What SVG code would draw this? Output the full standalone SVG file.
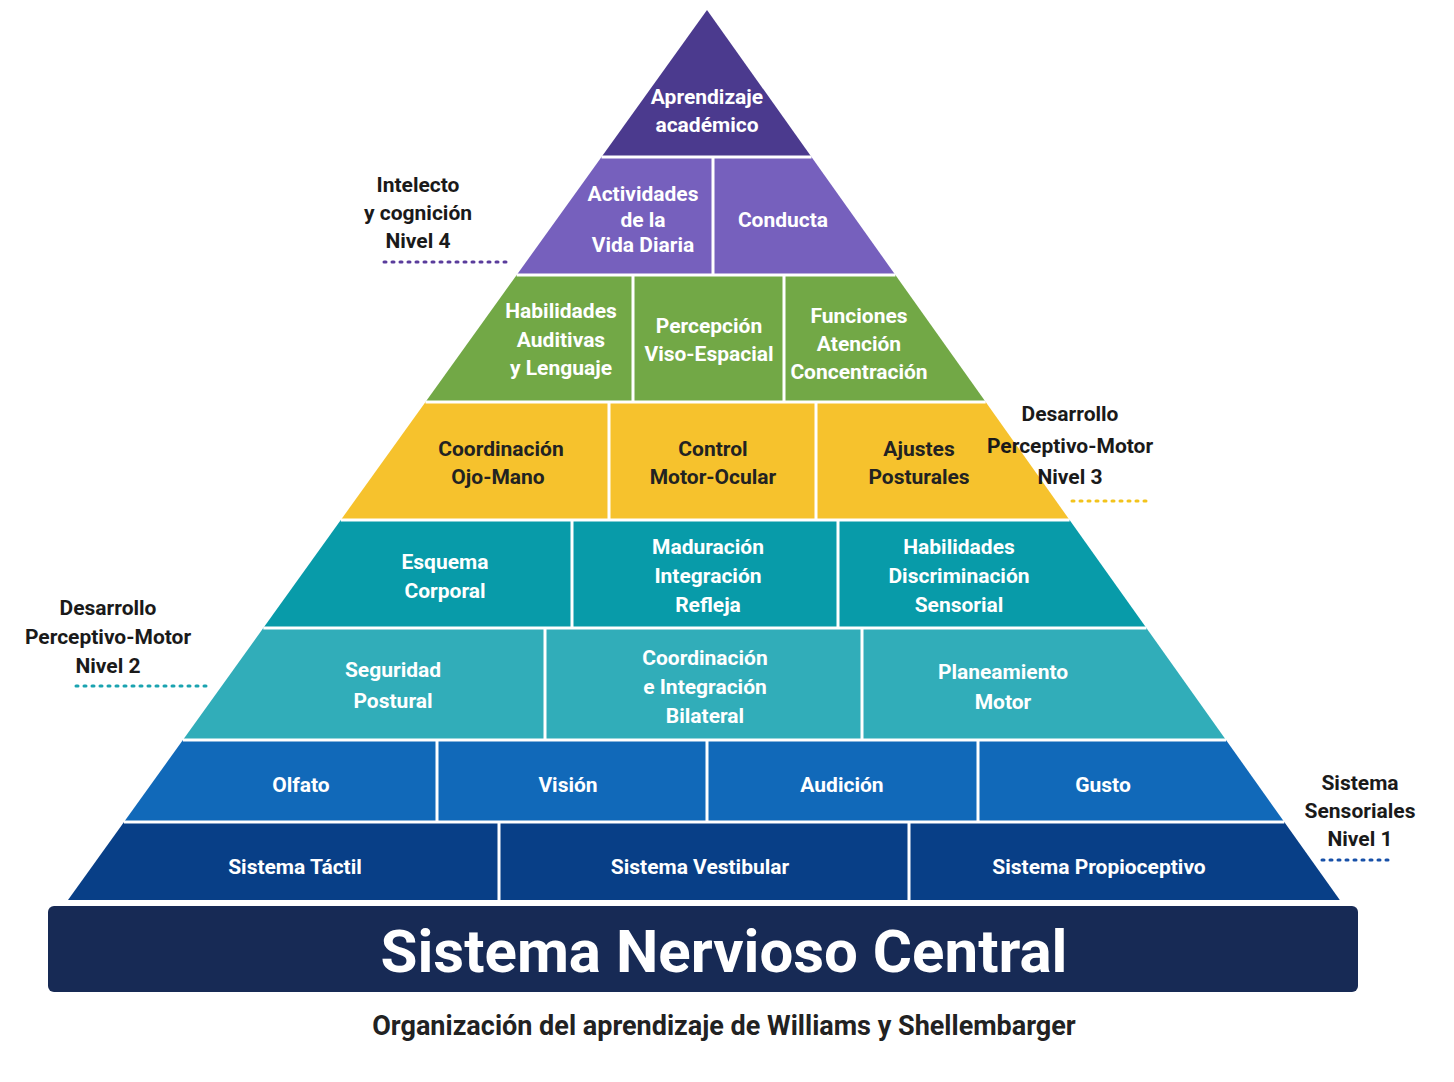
<svg xmlns="http://www.w3.org/2000/svg" width="1454" height="1082" viewBox="0 0 1454 1082">
<style>
.t{font-family:Roboto,"Liberation Sans",sans-serif;font-weight:bold;font-size:21px;fill:#fff;text-anchor:middle}
.d{fill:#222}
.s{font-family:Roboto,"Liberation Sans",sans-serif;font-weight:bold;font-size:21px;fill:#1a1a1a;text-anchor:middle}
.div{stroke:#fff;stroke-width:3}
.dot{stroke-width:3;stroke-dasharray:2 6;stroke-linecap:round;fill:none}
</style>
<rect width="1454" height="1082" fill="#fff"/>
<g id="pyramid">
<polygon points="707,10 811.5,157 601.5,157" fill="#4b3a8e"/>
<polygon points="601.5,157 811.5,157 895.4,275 516.7,275" fill="#7660bd"/>
<polygon points="516.7,275 895.4,275 985.7,402 425.5,402" fill="#72a846"/>
<polygon points="425.5,402 985.7,402 1069.6,520 340.8,520" fill="#f6c22d"/>
<polygon points="340.8,520 1069.6,520 1146.4,628 263.3,628" fill="#089ba9"/>
<polygon points="263.3,628 1146.4,628 1226,740 182.9,740" fill="#31adb9"/>
<polygon points="182.9,740 1226,740 1284.3,822 124,822" fill="#1169b9"/>
<polygon points="124,822 1284.3,822 1339.8,900 68,900" fill="#083f87"/>
<path class="div" d="M601.5,157H811.5M516.7,275H895.4M425.5,402H985.7M340.8,520H1069.6M263.3,628H1146.4M182.9,740H1226M124,822H1284.3"/>
<path class="div" d="M713,157V275M633,275V402M784,275V402M609,402V520M816,402V520M572,520V628M838,520V628M545,628V740M862,628V740M437,740V822M707,740V822M978,740V822M499,822V900M909,822V900"/>
</g>
<g id="labels">
<text class="t" x="707" y="104">Aprendizaje</text><text class="t" x="707" y="132">académico</text>
<text class="t" x="643" y="201">Actividades</text><text class="t" x="643" y="227">de la</text><text class="t" x="643" y="252">Vida Diaria</text>
<text class="t" x="783" y="227">Conducta</text>
<text class="t" x="561" y="318">Habilidades</text><text class="t" x="561" y="347">Auditivas</text><text class="t" x="561" y="375">y Lenguaje</text>
<text class="t" x="709" y="333">Percepción</text><text class="t" x="709" y="361">Viso-Espacial</text>
<text class="t" x="859" y="323">Funciones</text><text class="t" x="859" y="351">Atención</text><text class="t" x="859" y="379">Concentración</text>
<text class="t d" x="501" y="456">Coordinación</text><text class="t d" x="498" y="484">Ojo-Mano</text>
<text class="t d" x="713" y="456">Control</text><text class="t d" x="713" y="484">Motor-Ocular</text>
<text class="t d" x="919" y="456">Ajustes</text><text class="t d" x="919" y="484">Posturales</text>
<text class="t" x="445" y="569">Esquema</text><text class="t" x="445" y="598">Corporal</text>
<text class="t" x="708" y="554">Maduración</text><text class="t" x="708" y="583">Integración</text><text class="t" x="708" y="612">Refleja</text>
<text class="t" x="959" y="554">Habilidades</text><text class="t" x="959" y="583">Discriminación</text><text class="t" x="959" y="612">Sensorial</text>
<text class="t" x="393" y="677">Seguridad</text><text class="t" x="393" y="708">Postural</text>
<text class="t" x="705" y="665">Coordinación</text><text class="t" x="705" y="694">e Integración</text><text class="t" x="705" y="723">Bilateral</text>
<text class="t" x="1003" y="679">Planeamiento</text><text class="t" x="1003" y="709">Motor</text>
<text class="t" x="301" y="792">Olfato</text><text class="t" x="568" y="792">Visión</text><text class="t" x="842" y="792">Audición</text><text class="t" x="1103" y="792">Gusto</text>
<text class="t" x="295" y="874">Sistema Táctil</text><text class="t" x="700" y="874">Sistema Vestibular</text><text class="t" x="1099" y="874">Sistema Propioceptivo</text>
</g>
<g id="base">
<rect x="48" y="906" width="1310" height="86" rx="6" fill="#172a55"/>
<text x="724" y="972" font-family="Roboto,'Liberation Sans',sans-serif" font-weight="bold" font-size="60" fill="#fff" text-anchor="middle">Sistema Nervioso Central</text>
<text x="724" y="1035" font-family="Roboto,'Liberation Sans',sans-serif" font-weight="bold" font-size="27" fill="#222" text-anchor="middle">Organización del aprendizaje de Williams y Shellembarger</text>
</g>
<g id="side">
<text class="s" x="418" y="192">Intelecto</text><text class="s" x="418" y="220">y cognición</text><text class="s" x="418" y="248">Nivel 4</text>
<path class="dot" stroke="#5a3c9c" d="M384,262H510"/>
<text class="s" x="1070" y="421" text-anchor="start">Desarrollo</text><text class="s" x="1070" y="453" text-anchor="start">Perceptivo-Motor</text><text class="s" x="1070" y="484" text-anchor="start">Nivel 3</text>
<path class="dot" stroke="#f2c31c" d="M1072,501H1152"/>
<text class="s" x="108" y="615">Desarrollo</text><text class="s" x="108" y="644">Perceptivo-Motor</text><text class="s" x="108" y="673">Nivel 2</text>
<path class="dot" stroke="#1aa3b0" d="M76,686H206"/>
<text class="s" x="1360" y="790">Sistema</text><text class="s" x="1360" y="818">Sensoriales</text><text class="s" x="1360" y="846">Nivel 1</text>
<path class="dot" stroke="#1750a8" d="M1322,860H1394"/>
</g>
</svg>
